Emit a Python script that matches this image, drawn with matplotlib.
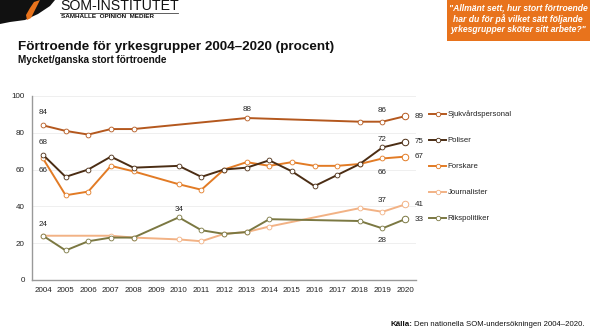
import matplotlib
matplotlib.use("Agg")
import matplotlib.pyplot as plt
from matplotlib.patches import Rectangle, Polygon

plt.rcParams['font.family'] = ['Liberation Sans', 'DejaVu Sans']

# ---- data ----
sjuk_years = [2004, 2005, 2006, 2007, 2008, 2013, 2018, 2019, 2020]
sjuk_vals = [84, 81, 79, 82, 82, 88, 86, 86, 89]

pol_years = [2004, 2005, 2006, 2007, 2008, 2010, 2011, 2012, 2013, 2014, 2015, 2016, 2017, 2018, 2019, 2020]
pol_vals = [68, 56, 60, 67, 61, 62, 56, 60, 61, 65, 59, 51, 57, 63, 72, 75]

fors_years = [2004, 2005, 2006, 2007, 2008, 2010, 2011, 2012, 2013, 2014, 2015, 2016, 2017, 2018, 2019, 2020]
fors_vals = [66, 46, 48, 62, 59, 52, 49, 60, 64, 62, 64, 62, 62, 63, 66, 67]

jour_years = [2004, 2007, 2008, 2010, 2011, 2012, 2013, 2014, 2018, 2019, 2020]
jour_vals = [24, 24, 23, 22, 21, 25, 26, 29, 39, 37, 41]

riks_years = [2004, 2005, 2006, 2007, 2008, 2010, 2011, 2012, 2013, 2014, 2018, 2019, 2020]
riks_vals = [24, 16, 21, 23, 23, 34, 27, 25, 26, 33, 32, 28, 33]

names = ["Sjukvårdspersonal", "Poliser", "Forskare", "Journalister", "Rikspolitiker"]
colors = ["#b4581e", "#4b2d14", "#e27b25", "#f2b285", "#7b7842"]
series = [(sjuk_years, sjuk_vals), (pol_years, pol_vals), (fors_years, fors_vals),
          (jour_years, jour_vals), (riks_years, riks_vals)]

year_ticks = list(range(2004, 2021))
y_ticks = [0, 20, 40, 60, 80, 100]

fig = plt.figure(figsize=(5.9, 3.32), dpi=100)
ax = fig.add_axes([0.0537, 0.157, 0.652, 0.554])

zorders = [5, 6, 4, 2, 3]
for (xs, ys), c, z in zip(series, colors, zorders):
    ax.plot(xs, ys, color=c, lw=1.4, zorder=z)
    ax.scatter(xs[:-1], ys[:-1], s=12, facecolor='white', edgecolor=c, lw=0.6, zorder=z + 0.5)
    ax.scatter(xs[-1:], ys[-1:], s=22, facecolor='white', edgecolor=c, lw=0.7, zorder=z + 0.5)

ax.set_xlim(2003.5, 2020.5)
ax.set_ylim(0, 100)
ax.set_xticks(year_ticks)
ax.set_xticklabels([str(y) for y in year_ticks], fontsize=5.8)
ax.set_yticks(y_ticks)
ax.set_yticklabels([str(v) for v in y_ticks], fontsize=5.8)
ax.tick_params(length=0, colors='#222222')
ax.tick_params(axis='x', pad=5)
ax.tick_params(axis='y', pad=5)
for v in y_ticks[1:]:
    ax.axhline(v, color='#ececec', lw=0.6, zorder=0)
for s in ['top', 'right']:
    ax.spines[s].set_visible(False)
ax.spines['left'].set_color('#999999')
ax.spines['bottom'].set_color('#999999')
ax.spines['left'].set_linewidth(1.0)
ax.spines['bottom'].set_linewidth(1.0)

# value labels
fs = 5.8
def lab(x, y, t, dy=0, dx=0, ha='center'):
    ax.annotate(t, (x, y), xytext=(dx, dy), textcoords='offset points',
                ha=ha, va='center', fontsize=fs, color='#222222')

lab(2004, sjuk_vals[0], str(sjuk_vals[0]), dy=9)
lab(2013, sjuk_vals[5], str(sjuk_vals[5]), dy=6)
lab(2019, sjuk_vals[7], str(sjuk_vals[7]), dy=8)
lab(2020, sjuk_vals[8], str(sjuk_vals[8]), dx=7, ha='left')
lab(2004, pol_vals[0], str(pol_vals[0]), dy=9)
lab(2019, pol_vals[14], str(pol_vals[14]), dy=6)
lab(2020, pol_vals[15], str(pol_vals[15]), dx=7, ha='left')
lab(2004, fors_vals[0], str(fors_vals[0]), dy=-9)
lab(2019, fors_vals[14], str(fors_vals[14]), dy=-10)
lab(2020, fors_vals[15], str(fors_vals[15]), dx=7, ha='left')
lab(2019, jour_vals[9], str(jour_vals[9]), dy=8)
lab(2020, jour_vals[10], str(jour_vals[10]), dx=7, ha='left')
lab(2004, riks_vals[0], str(riks_vals[0]), dy=8)
lab(2010, riks_vals[5], str(riks_vals[5]), dy=6)
lab(2019, riks_vals[11], str(riks_vals[11]), dy=-9)
lab(2020, riks_vals[12], str(riks_vals[12]), dx=7, ha='left')

# legend (figure coords)
W, H = 590.0, 332.0
leg_y = [114, 140, 166, 192, 218]
for n, c, yy in zip(names, colors, leg_y):
    fy = 1 - yy / H
    fig.add_artist(plt.Line2D([429 / W, 446 / W], [fy, fy], color=c, lw=1.4))
    fig.add_artist(plt.Line2D([437.5 / W], [fy], marker='o', ms=3.2, mfc='white', mec=c, mew=0.6))
    fig.text(447.5 / W, fy, n, fontsize=5.6, va='center', ha='left', color='#222222')

# titles
fig.text(18 / W, 1 - 47 / H, "Förtroende för yrkesgrupper 2004–2020 (procent)",
         fontsize=9.7, fontweight='bold', va='center', ha='left', color='#111111')
fig.text(18 / W, 1 - 60 / H, "Mycket/ganska stort förtroende",
         fontsize=7.2, fontweight='bold', va='center', ha='left', color='#111111')

# orange question box
fig.add_artist(Rectangle((447 / W, 1 - 41 / H), (590 - 447) / W, 41 / H,
                         transform=fig.transFigure, facecolor='#e8731c', edgecolor='none'))
fig.text(518 / W, 1 - 19 / H,
         '"Allmänt sett, hur stort förtroende\nhar du för på vilket sätt följande\nyrkesgrupper sköter sitt arbete?"',
         fontsize=6.2, fontweight='bold', fontstyle='italic', color='white',
         ha='center', va='center', linespacing=1.15)

# logo
fig.add_artist(Polygon([(0, 1), (55 / W, 1), (50 / W, 1 - 6 / H), (38 / W, 1 - 14 / H),
                        (25 / W, 1 - 20 / H), (10 / W, 1 - 22 / H), (0, 1 - 24 / H)],
                       closed=True, transform=fig.transFigure, facecolor='#111111', edgecolor='none'))
fig.add_artist(Polygon([(34 / W, 1 - 2 / H), (40 / W, 1), (36 / W, 1 - 8 / H), (31 / W, 1 - 18 / H),
                        (27 / W, 1 - 20 / H), (26 / W, 1 - 15 / H), (30 / W, 1 - 8 / H)],
                       closed=True, transform=fig.transFigure, facecolor='#e8731c', edgecolor='none'))
fig.text(60 / W, 1 - 9.5 / H, "SOM-INSTITUTET", fontsize=10.2, color='#111111',
         ha='left', va='baseline')
fig.add_artist(plt.Line2D([60 / W, 178 / W], [1 - 12.5 / H, 1 - 12.5 / H], color='#444444', lw=0.6))
fig.text(61 / W, 1 - 17 / H, "SAMHÄLLE  OPINION  MEDIER", fontsize=4.6, fontweight='bold',
         color='#111111', ha='left', va='center')

# source
src_reg = fig.text(585 / W, 1 - 325 / H, "Den nationella SOM-undersökningen 2004–2020.",
                   fontsize=5.6, ha='right', va='center', color='#111111')
fig.canvas.draw()
bb = src_reg.get_window_extent()
fig.text((bb.x0 - 2.5) / W, 1 - 325 / H, "Källa:", fontsize=5.8, fontweight='bold',
         ha='right', va='center', color='#111111')

fig.savefig("out.png", dpi=100)
